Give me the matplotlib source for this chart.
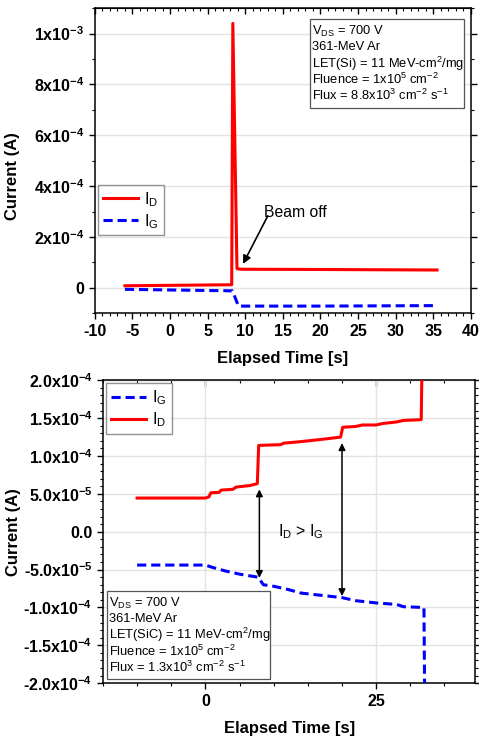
import numpy as np
import matplotlib
matplotlib.use("Agg")
import matplotlib.pyplot as plt
from matplotlib.ticker import MultipleLocator, FuncFormatter

plt.rcParams["font.family"] = ["Liberation Sans", "DejaVu Sans"]
plt.rcParams["font.weight"] = "bold"
plt.rcParams["axes.unicode_minus"] = False
plt.rcParams["mathtext.fontset"] = "custom"
plt.rcParams["mathtext.rm"] = "Liberation Sans:weight=normal"
plt.rcParams["mathtext.it"] = "Liberation Sans:italic:weight=normal"
plt.rcParams["mathtext.bf"] = "Liberation Sans:bold"

# --- panel superior (LET(Si)) ---
t_d_top = [-6, 8.2, 8.35, 8.9, 9.5, 20, 35.5]
i_d_top = [0.8e-5, 1.2e-5, 1.04e-3, 7.5e-5, 7.3e-5, 7.2e-5, 7.0e-5]
t_g_top = [-6, 8.3, 9.1, 20, 35.5]
i_g_top = [-0.6e-5, -1.2e-5, -7.2e-5, -7.2e-5, -7.0e-5]

# --- panel inferior (LET(SiC)) ---
t_d_bot = [-10, 0, 0.5, 0.8, 2, 2.3, 4, 4.5, 6.5, 7.6, 7.8, 11, 11.5, 14, 16,
           18, 19.8, 20.1, 22, 23, 25, 26, 28, 29, 31.6, 31.7]
i_d_bot = [4.45e-5, 4.45e-5, 4.6e-5, 5.15e-5, 5.2e-5, 5.5e-5, 5.6e-5, 5.9e-5,
           6.1e-5, 6.35e-5, 1.14e-4, 1.15e-4, 1.17e-4, 1.19e-4, 1.21e-4,
           1.23e-4, 1.25e-4, 1.38e-4, 1.39e-4, 1.41e-4, 1.41e-4, 1.43e-4,
           1.45e-4, 1.47e-4, 1.48e-4, 2.1e-4]
t_g_bot = [-10, 0, 1, 3, 5, 7.7, 8.5, 10, 12, 14, 17, 20, 22, 25, 28, 29,
           32.0, 32.1]
i_g_bot = [-4.4e-5, -4.4e-5, -4.7e-5, -5.2e-5, -5.6e-5, -6.0e-5, -7.0e-5,
           -7.2e-5, -7.6e-5, -8.1e-5, -8.4e-5, -8.7e-5, -9.1e-5, -9.4e-5,
           -9.6e-5, -9.9e-5, -1.0e-4, -2.1e-4]

# flechas I_D > I_G: (x, y_sup, y_inf)
flechas = [(7.9, 5.6e-5, -6.1e-5), (20.0, 1.17e-4, -8.5e-5)]

caja_top = [r"$\mathrm{V_{DS}}$ = 700 V", "361-MeV Ar",
            r"LET(Si) = 11 MeV-cm$^{2}$/mg",
            r"Fluence = 1x10$^{5}$ cm$^{-2}$",
            r"Flux = 8.8x10$^{3}$ cm$^{-2}$ s$^{-1}$"]
caja_bot = [r"$\mathrm{V_{DS}}$ = 700 V", "361-MeV Ar",
            r"LET(SiC) = 11 MeV-cm$^{2}$/mg",
            r"Fluence = 1x10$^{5}$ cm$^{-2}$",
            r"Flux = 1.3x10$^{3}$ cm$^{-2}$ s$^{-1}$"]

RED = "#ff0000"
BLUE = "#0000ff"
GRID = "#e3e3e3"
LEG = {"weight": "normal", "size": 11.5}


def fmt_top(v, pos):
    if abs(v) < 1e-12:
        return "0"
    e = int(np.floor(np.log10(abs(v))))
    m = v / 10 ** e
    return r"%dx10$\mathbf{^{%d}}$" % (round(m), e)


def fmt_bot(v, pos):
    if abs(v) < 1e-12:
        return "0.0"
    e = int(np.floor(np.log10(abs(v))))
    m = v / 10 ** e
    return r"%.1fx10$\mathbf{^{%d}}$" % (m, e)


def caja(fig, lineas, x0, y0, x1, y1, fs=9.3):
    """Caja de texto con coordenadas en pixeles de figura."""
    W, H = fig.get_size_inches() * fig.dpi
    rect = plt.Rectangle((x0 / W, 1 - y1 / H), (x1 - x0) / W, (y1 - y0) / H,
                         transform=fig.transFigure, fc="white", ec="#555555",
                         lw=0.9, zorder=5)
    fig.add_artist(rect)
    paso = (y1 - y0 - 8) / len(lineas)
    for i, s in enumerate(lineas):
        yc = y0 + 4 + paso * (i + 0.5)
        fig.text((x0 + 2) / W, 1 - yc / H, s, fontsize=fs, va="center",
                 ha="left", fontweight="normal", zorder=6)


def estilo(ax, sec):
    for s in ax.spines.values():
        s.set_linewidth(1.1)
    ax.tick_params(axis="both", which="major", direction="out", length=4,
                   width=1.0, labelsize=11.5, right=True, top=False)
    ax.tick_params(axis="both", which="minor", direction="out", length=2,
                   width=0.8, right=True, top=False)
    sec.tick_params(axis="x", which="major", direction="in", length=4, width=1.0)
    sec.tick_params(axis="x", which="minor", direction="in", length=2, width=0.8)
    sec.set_xticklabels([])


fig = plt.figure(figsize=(4.79, 7.37), dpi=100)

# ---------------- panel superior ----------------
ax1 = fig.add_axes([0.198, 0.575, 0.785, 0.414])
ax1.plot(t_d_top, i_d_top, color=RED, lw=2.2, label=r"$\mathrm{I_D}$", zorder=3)
ax1.plot(t_g_top, i_g_top, color=BLUE, lw=2.2, ls=(0, (3, 1.6)),
         label=r"$\mathrm{I_G}$", zorder=3)
ax1.set_xlim(-10, 40)
ax1.set_ylim(-1e-4, 1.1e-3)
ax1.xaxis.set_major_locator(MultipleLocator(5))
ax1.xaxis.set_minor_locator(MultipleLocator(1))
ax1.yaxis.set_major_locator(MultipleLocator(2e-4))
ax1.yaxis.set_minor_locator(MultipleLocator(1e-4))
ax1.yaxis.set_major_formatter(FuncFormatter(fmt_top))
ax1.xaxis.set_major_formatter(FuncFormatter(lambda v, p: "%d" % v))
ax1.grid(axis="y", color=GRID, lw=1.0, zorder=0)
sec1 = ax1.secondary_xaxis("top")
sec1.xaxis.set_major_locator(MultipleLocator(5))
sec1.xaxis.set_minor_locator(MultipleLocator(1))
estilo(ax1, sec1)
ax1.set_xlabel("Elapsed Time [s]", fontsize=12, fontweight="bold", labelpad=9)
ax1.set_ylabel("Current (A)", fontsize=12, fontweight="bold")
ax1.yaxis.set_label_coords(-0.2, 0.45)
ax1.legend(loc="upper left", bbox_to_anchor=(0.0, 0.43), prop=LEG,
           frameon=True, fancybox=False, edgecolor="#777777",
           handlelength=2.2, borderpad=0.3, labelspacing=0.2,
           handletextpad=0.4, borderaxespad=0.2)
ax1.annotate("", xy=(9.7, 9.4e-5), xytext=(13.0, 2.83e-4),
             arrowprops=dict(arrowstyle="-|>", color="black", lw=1.2,
                             mutation_scale=12, shrinkA=0, shrinkB=0))
ax1.text(16.6, 2.95e-4, "Beam off", fontsize=11.3, fontweight="normal",
         ha="center", va="center")
caja(fig, caja_top, 310, 19, 464, 108)

# ---------------- panel inferior ----------------
ax2 = fig.add_axes([0.215, 0.073, 0.777, 0.411])
ax2.plot(t_g_bot, i_g_bot, color=BLUE, lw=2.2, ls=(0, (3, 1.6)),
         label=r"$\mathrm{I_G}$", zorder=3)
ax2.plot(t_d_bot, i_d_bot, color=RED, lw=2.2, label=r"$\mathrm{I_D}$", zorder=3)
ax2.set_xlim(-15, 39.5)
ax2.set_ylim(-2e-4, 2e-4)
ax2.xaxis.set_major_locator(MultipleLocator(25))
ax2.xaxis.set_minor_locator(MultipleLocator(5))
ax2.yaxis.set_major_locator(MultipleLocator(5e-5))
ax2.yaxis.set_minor_locator(MultipleLocator(1e-5))
ax2.yaxis.set_major_formatter(FuncFormatter(fmt_bot))
ax2.xaxis.set_major_formatter(FuncFormatter(lambda v, p: "%d" % v))
ax2.grid(color=GRID, lw=1.0, zorder=0)
sec2 = ax2.secondary_xaxis("top")
sec2.xaxis.set_major_locator(MultipleLocator(25))
sec2.xaxis.set_minor_locator(MultipleLocator(5))
estilo(ax2, sec2)
ax2.set_xlabel("Elapsed Time [s]", fontsize=12, fontweight="bold", labelpad=9)
ax2.set_ylabel("Current (A)", fontsize=12, fontweight="bold")
ax2.yaxis.set_label_coords(-0.22, 0.5)
ax2.legend(loc="upper left", bbox_to_anchor=(0.0, 1.0), prop=LEG,
           frameon=True, fancybox=False, edgecolor="#777777",
           handlelength=2.2, borderpad=0.3, labelspacing=0.2,
           handletextpad=0.4, borderaxespad=0.2)
for x, ya, yb in flechas:
    ax2.annotate("", xy=(x, ya), xytext=(x, yb),
                 arrowprops=dict(arrowstyle="<|-|>", color="black", lw=1.1,
                                 mutation_scale=10, shrinkA=0, shrinkB=0))
ax2.text(14, 0, r"$\mathrm{I_D}$ > $\mathrm{I_G}$", fontsize=11.5,
         fontweight="normal", ha="center", va="center")
caja(fig, caja_bot, 107, 591, 270, 679)

fig.savefig("out.png", dpi=100)
